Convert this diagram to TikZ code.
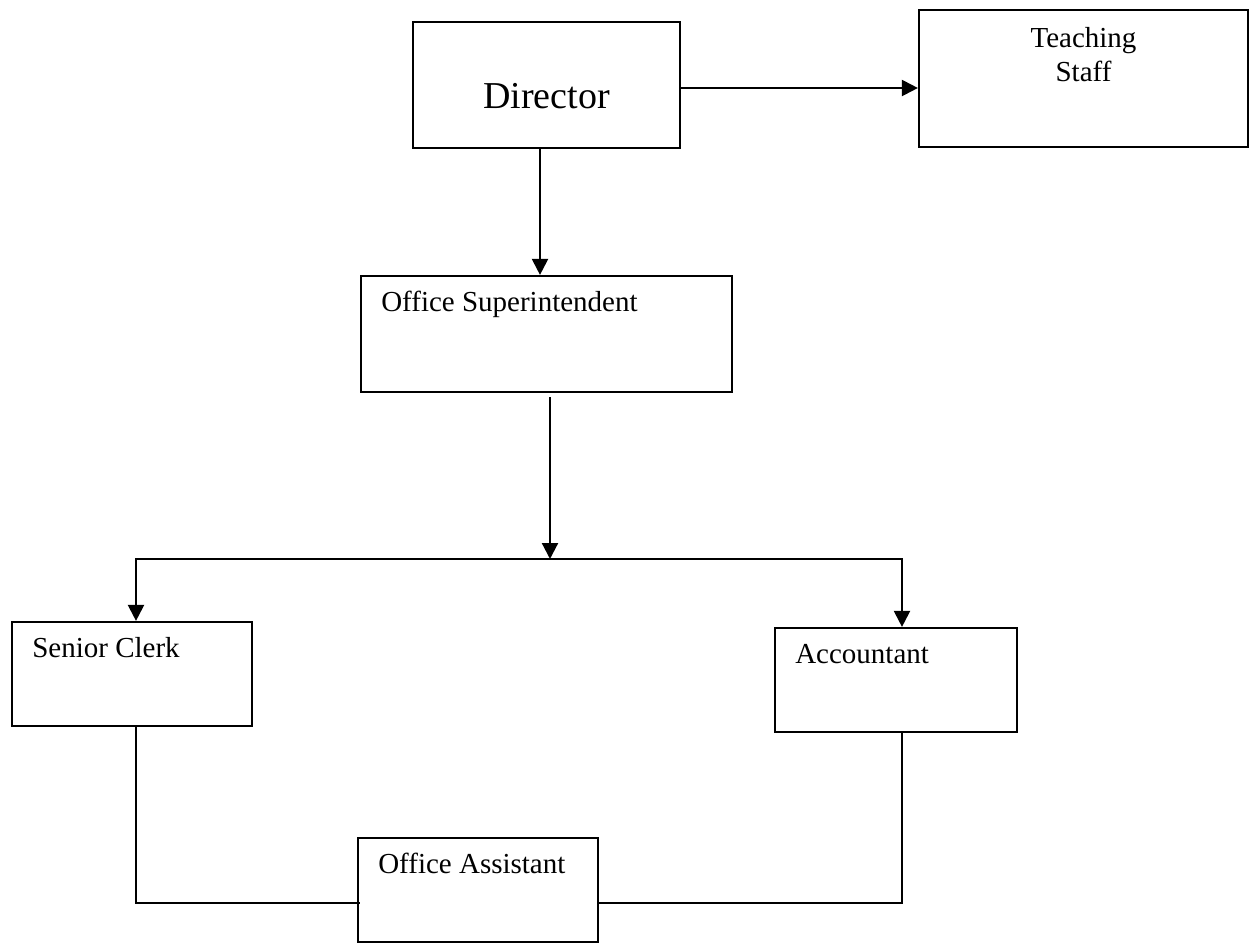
\documentclass[tikz,border=0pt]{standalone}
\usepackage{fontspec}
\setmainfont{Liberation Serif}
\usepackage{tikz}
\usetikzlibrary{positioning}
\usetikzlibrary{arrows.meta}
\usetikzlibrary{calc}

\begin{document}
\begin{tikzpicture}[
    x=0.5pt, y=-0.5pt,
    box/.style={rectangle, draw=black, line width=1.1pt, fill=white, inner sep=0pt},
    lbl/.style={inner sep=0pt, anchor=base west, xshift=10.5pt, yshift=-18.5pt, font=\fontsize{14.5}{17}\selectfont},
    conn/.style={line width=1.1pt},
    arr/.style={line width=1.1pt, -{Triangle[length=8pt, width=8pt]}}
]
    \useasboundingbox (0,0) rectangle (1255,943);

    \node[box, minimum width=133.5pt, minimum height=63pt] (DIR) at (546.5,85)
        [label={[inner sep=0pt, yshift=-5.5pt, font=\fontsize{19}{22}\selectfont]center:Director}] {};
    \node[box, minimum width=164.5pt, minimum height=68.5pt] (TS) at (1083.5,78.5)
        [label={[inner sep=0pt, anchor=north, yshift=-9pt, align=center, font=\fontsize{14.5}{17}\selectfont]north:Teaching\\Staff}] {};

    \node[box, minimum width=185.5pt, minimum height=58pt] (OS) at (546.5,334)
        [label={[lbl]north west:Office Superintendent}] {};

    \node[box, minimum width=120pt, minimum height=52pt] (SC) at (132,674)
        [label={[lbl]north west:Senior Clerk}] {};
    \node[box, minimum width=121pt, minimum height=52pt] (ACC) at (896,680)
        [label={[lbl]north west:Accountant}] {};
    \node[box, minimum width=120pt, minimum height=52pt] (OA) at (478,890)
        [label={[lbl]north west:Office Assistant}] {};

    \coordinate (D1) at ($(DIR.east)+(0,3)$);
    \coordinate (S1) at (550,559);

    \draw[arr] (D1) -- (D1 -| TS.west);
    \draw[arr] ($(DIR.south)+(-6.5,0)$) -- ($(OS.north)+(-6.5,0)$);
    \draw[arr] ($(OS.south -| S1)+(0,4)$) -- (S1);

    % split to clerk and accountant
    \draw[arr] (S1) -| ($(SC.north)+(4,0)$);
    \draw[arr] (S1) -| ($(ACC.north)+(6,0)$);

    \draw[conn] ($(SC.south)+(4,0)$) |- ($(OA.west)+(3,13)$);
    \draw[conn] ($(ACC.south)+(6,0)$) |- ($(OA.east)+(0,13)$);

\end{tikzpicture}
\end{document}
